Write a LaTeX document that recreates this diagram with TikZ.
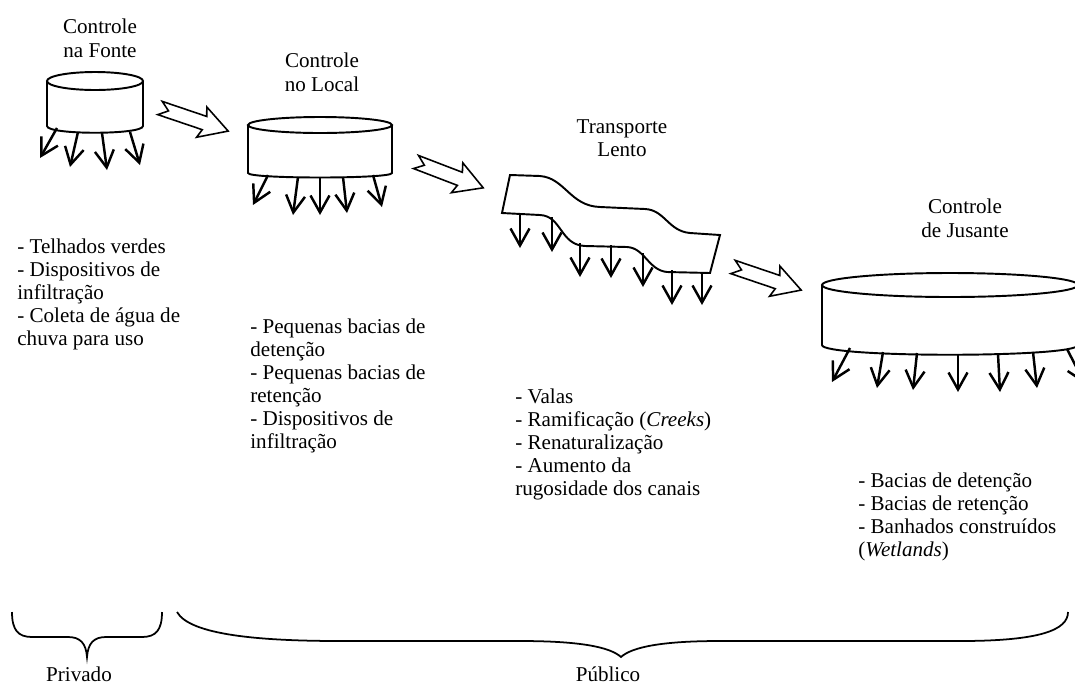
\documentclass[tikz,border=0pt]{standalone}
\usepackage{fontspec}
\setmainfont{Liberation Serif}
\usetikzlibrary{arrows.meta}
\usetikzlibrary{positioning}

\tikzset{flowarrow/.pic={
  \draw[line width=0.9pt,fill=white] (0,-7) -- (47,-7) -- (44,-16) -- (72,0) -- (44,16) -- (47,7) -- (0,7) -- (9,0) -- cycle;
}}

\begin{document}
\begin{tikzpicture}[x=0.02cm,y=-0.02cm,
  tank/.style={line width=1.1pt},
  drip/.style={line width=1.4pt,-{Straight Barb[length=0.34cm,width=0.38cm]}},
  heading/.style={align=center,anchor=north,inner sep=0pt,font=\fontsize{12}{13.5}\selectfont},
  note/.style={align=left,anchor=north west,inner sep=0pt,font=\fontsize{12}{13}\selectfont},
  brace/.style={line width=1pt}]
  \useasboundingbox (0,0) rectangle (1075,684);

  % titles
  \node[heading] (h1) at (100,19) {Controle\\na Fonte};
  \node[heading] (h2) at (322,53) {Controle\\no Local};
  \node[heading] (h3) at (622,119) {Transporte\\Lento};
  \node[heading] (h4) at (965,199) {Controle\\de Jusante};

  % tanks
  \draw[tank] (95,81) ellipse [x radius=0.96cm, y radius=0.18cm];
  \draw[tank] (47,81) -- (47,126) .. controls (47,135) and (143,135) .. (143,126) -- (143,81);
  \draw[tank] (320,125) ellipse [x radius=1.44cm, y radius=0.16cm];
  \draw[tank] (248,125) -- (248,173) .. controls (248,179) and (392,179) .. (392,173) -- (392,125);
  \draw[tank] (950,285) ellipse [x radius=2.56cm, y radius=0.24cm];
  \draw[tank] (822,285) -- (822,345) .. controls (822,358) and (1078,358) .. (1078,345) -- (1078,285);
  \draw[tank] (510,175) -- (540,176) .. controls (565,178) and (570,206) .. (600,207) -- (645,209)
    .. controls (665,210) and (668,231) .. (690,233) -- (720,235) -- (710,273) -- (667,272)
    .. controls (648,270) and (645,248) .. (627,247) -- (585,246) .. controls (560,245) and (562,216) .. (540,215)
    -- (502,213) -- cycle;

  % drains
  \foreach \a/\b/\c/\d in {57/128/40/158, 78/132/70/167, 102/133/107/170, 130/132/140/165}
    \draw[drip] (\a,\b) -- (\c,\d);
  \foreach \a/\b/\c/\d in {268/175/253/205, 298/177/293/215, 320/178/320/215, 343/177/347/213, 373/175/382/207}
    \draw[drip] (\a,\b) -- (\c,\d);
  \foreach \a/\b/\c in {520/213/248, 552/217/252, 580/243/277, 611/245/278, 643/253/287, 672/270/305, 702/273/305}
    \draw[drip] (\a,\b) -- (\a,\c);
  \foreach \a/\b/\c/\d in {850/348/832/382, 883/352/877/388, 917/353/913/390, 958/354/958/392, 998/354/1000/392, 1033/352/1037/388, 1067/349/1085/384}
    \draw[drip] (\a,\b) -- (\c,\d);

  % flow between stages
  \coordinate (f1) at (160,108);
  \coordinate (f2) at (416,162);
  \coordinate (f3) at (733,267);
  \pic[rotate=-18.7] at (f1) {flowarrow};
  \pic[rotate=-21] at (f2) {flowarrow};
  \pic[rotate=-18.7] at (f3) {flowarrow};

  % measures
  \node[note] (n1) at (17,239) {- Telhados verdes\\- Dispositivos de\\infiltração\\- Coleta de água de\\chuva para uso};
  \node[note] (n2) at (250,319) {- Pequenas bacias de\\detenção\\- Pequenas bacias de\\retenção\\- Dispositivos de\\infiltração};
  \node[note] (n3) at (515,389) {- Valas\\- Ramificação (\textit{Creeks})\\- Renaturalização\\- Aumento da\\rugosidade dos canais};
  \node[note] (n4) at (858,473) {- Bacias de detenção\\- Bacias de retenção\\- Banhados construídos\\(\textit{Wetlands})};

  % braces
  \draw[brace] (12,612) .. controls (12,630) and (18,637) .. (32,637) -- (68,637)
    .. controls (80,637) and (86,643) .. (87,657) .. controls (88,643) and (94,637) .. (106,637)
    -- (142,637) .. controls (156,637) and (162,630) .. (162,612);
  \draw[brace] (177,612) .. controls (190,635) and (260,641) .. (340,641) -- (520,641)
    .. controls (580,641) and (610,647) .. (621,657) .. controls (632,647) and (662,641) .. (720,641)
    -- (960,641) .. controls (1040,641) and (1068,630) .. (1068,612);
  \node[heading,anchor=base] (p1) at (79,681) {Privado};
  \node[heading,anchor=base] (p2) at (608,681) {Público};
\end{tikzpicture}
\end{document}
